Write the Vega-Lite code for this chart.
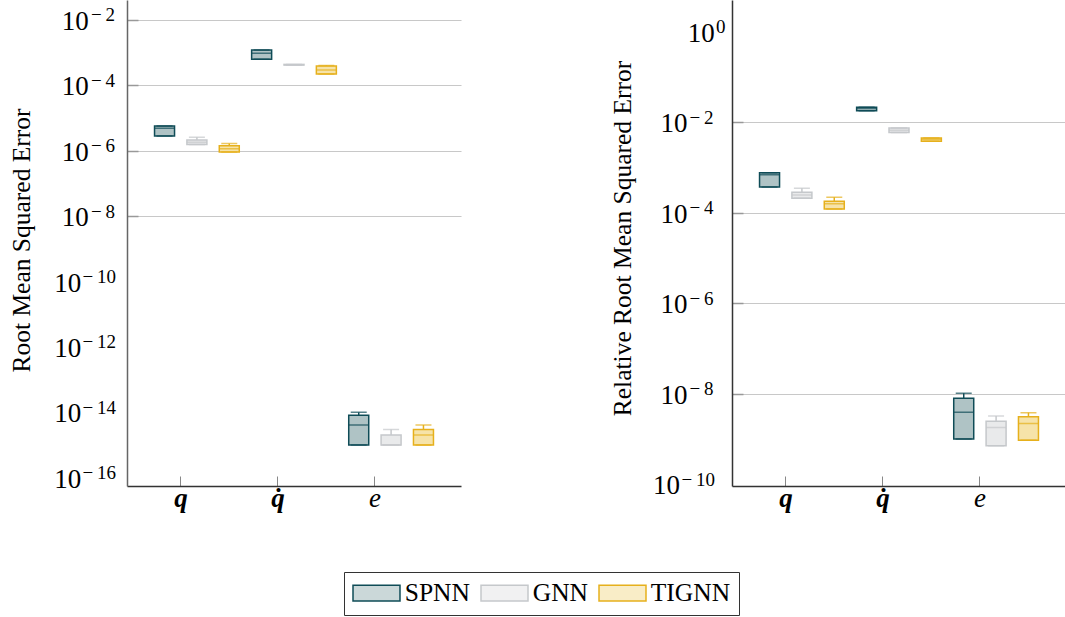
{
  "$schema": "https://vega.github.io/schema/vega-lite/v6.json",
  "autosize": {"type": "pad"},
  "padding": {"left": 9, "top": 0, "right": 0, "bottom": 0},
  "background": "white",
  "bounds": "flush",
  "spacing": 271,
  "config": {
    "font": "Liberation Serif",
    "view": {"stroke": null},
    "axis": {"labelColor": "black", "titleColor": "black", "labelFont": "Liberation Serif", "titleFont": "Liberation Serif"}
  },
  "datasets": {
    "rmse": [
      {"var": "q", "model": "SPNN", "lower": 2.82e-6, "q1": 2.82e-6, "median": 4.9e-6, "q3": 5.75e-6, "upper": 5.75e-6},
      {"var": "q", "model": "GNN", "lower": 1.55e-6, "q1": 1.55e-6, "median": 1.82e-6, "q3": 2.14e-6, "upper": 2.57e-6},
      {"var": "q", "model": "TIGNN", "lower": 9.1e-7, "q1": 9.1e-7, "median": 1.15e-6, "q3": 1.41e-6, "upper": 1.66e-6},
      {"var": "q̇", "model": "SPNN", "lower": 6.3e-4, "q1": 6.3e-4, "median": 9.5e-4, "q3": 1.2e-3, "upper": 1.2e-3},
      {"var": "q̇", "model": "GNN", "lower": 4.17e-4, "q1": 4.17e-4, "median": 4.27e-4, "q3": 4.37e-4, "upper": 4.37e-4},
      {"var": "q̇", "model": "TIGNN", "lower": 2.24e-4, "q1": 2.24e-4, "median": 2.95e-4, "q3": 3.89e-4, "upper": 4.07e-4},
      {"var": "e", "model": "SPNN", "lower": 1.0e-15, "q1": 1.0e-15, "median": 4.1e-15, "q3": 8.1e-15, "upper": 1.0e-14},
      {"var": "e", "model": "GNN", "lower": 1.0e-15, "q1": 1.0e-15, "median": 1.0e-15, "q3": 2.04e-15, "upper": 3.0e-15},
      {"var": "e", "model": "TIGNN", "lower": 1.0e-15, "q1": 1.0e-15, "median": 2.04e-15, "q3": 3.0e-15, "upper": 4.1e-15}
    ],
    "rrmse": [
      {"var": "q", "model": "SPNN", "lower": 3.7e-4, "q1": 3.7e-4, "median": 6.9e-4, "q3": 7.6e-4, "upper": 7.6e-4},
      {"var": "q", "model": "GNN", "lower": 2.09e-4, "q1": 2.09e-4, "median": 2.45e-4, "q3": 2.82e-4, "upper": 3.47e-4},
      {"var": "q", "model": "TIGNN", "lower": 1.2e-4, "q1": 1.2e-4, "median": 1.58e-4, "q3": 1.78e-4, "upper": 2.19e-4},
      {"var": "q̇", "model": "SPNN", "lower": 1.78e-2, "q1": 1.78e-2, "median": 2.0e-2, "q3": 2.14e-2, "upper": 2.14e-2},
      {"var": "q̇", "model": "GNN", "lower": 5.9e-3, "q1": 5.9e-3, "median": 6.6e-3, "q3": 7.4e-3, "upper": 7.4e-3},
      {"var": "q̇", "model": "TIGNN", "lower": 3.8e-3, "q1": 3.8e-3, "median": 4.17e-3, "q3": 4.47e-3, "upper": 4.47e-3},
      {"var": "e", "model": "SPNN", "lower": 1.0e-9, "q1": 1.0e-9, "median": 3.9e-9, "q3": 7.9e-9, "upper": 1.02e-8},
      {"var": "e", "model": "GNN", "lower": 7.1e-10, "q1": 7.1e-10, "median": 1.78e-9, "q3": 2.45e-9, "upper": 3.2e-9},
      {"var": "e", "model": "TIGNN", "lower": 9.3e-10, "q1": 9.3e-10, "median": 2.2e-9, "q3": 3.1e-9, "upper": 3.8e-9}
    ]
  },
  "resolve": {"scale": {"y": "independent", "x": "independent", "xOffset": "independent", "fill": "shared", "stroke": "shared"}, "legend": {"fill": "shared", "stroke": "shared"}},
  "hconcat": [
    {
      "width": 334,
      "height": 486,
      "data": {"name": "rmse"},
      "resolve": {"axis": {"y": "independent"}},
      "encoding": {
        "x": {"field": "var", "type": "nominal", "sort": ["q", "q̇", "e"],
          "scale": {"paddingInner": 0, "paddingOuter": 0.22},
          "axis": {"title": null, "labelAngle": 0, "labelFontSize": 27, "labelFontStyle": "italic",
            "labelFontWeight": {"condition": {"test": "datum.value === 'e'", "value": "normal"}, "value": "bold"},
            "tickSize": -10, "tickColor": "#888", "tickWidth": 1, "bandPosition": 0.334, "labelOffset": -16,
            "domainColor": "#333", "domainWidth": 1.5, "grid": false, "labelPadding": 9}},
        "xOffset": {"field": "model", "type": "nominal", "sort": ["SPNN", "GNN", "TIGNN"], "scale": {"paddingInner": 0, "paddingOuter": 0}},
        "stroke": {"field": "model", "type": "nominal", "scale": {"domain": ["SPNN", "GNN", "TIGNN"], "range": ["#0f4c57", "#c5c8cb", "#e6b01c"]}}
      },
      "layer": [
        {
          "mark": {"type": "rule", "strokeWidth": 1.5},
          "encoding": {
            "y": {"field": "lower", "type": "quantitative",
              "scale": {"type": "log", "domain": [5.6e-17, 4.07e-2], "nice": false, "zero": false},
              "axis": {"orient": "left", "title": "Root Mean Squared Error", "values": [1e-2, 1e-4, 1e-6, 1e-8],
                "labelExpr": "'−\u2009' + (-round(log(datum.value)/LN10))", "labelAlign": "left", "labelPadding": 47.5, "labelFontSize": 19, "labelOffset": -5,
                "grid": true, "gridColor": "#c8c8c8", "gridWidth": 1.2, "tickSize": -11, "tickColor": "#999", "tickWidth": 1.5,
                "domainColor": "#666", "domainWidth": 1.5,
                "titleFontSize": 25.5, "titleFontWeight": "normal", "titleX": -106, "titleY": 240, "titleBaseline": "middle", "titleAngle": 270, "titleAlign": "center"}},
            "y2": {"field": "q1"}
          }
        },
        {
          "mark": {"type": "rule", "strokeWidth": 1.5},
          "encoding": {
            "y": {"field": "q3", "type": "quantitative",
              "scale": {"type": "log", "domain": [5.6e-17, 4.07e-2], "nice": false, "zero": false},
              "axis": {"orient": "left", "title": null, "values": [1e-10, 1e-12, 1e-14, 1e-16], "domain": false, "ticks": false, "grid": false,
                "labelExpr": "'−\u2009' + (-round(log(datum.value)/LN10))", "labelAlign": "left", "labelPadding": 45, "labelFontSize": 19, "labelOffset": -5}},
            "y2": {"field": "upper"}
          }
        },
        {
          "mark": {"type": "bar", "size": 20, "strokeWidth": 1.5},
          "encoding": {
            "y": {"field": "q1", "type": "quantitative",
              "scale": {"type": "log", "domain": [5.6e-17, 4.07e-2], "nice": false, "zero": false},
              "axis": {"orient": "left", "title": null, "values": [1e-2, 1e-4, 1e-6, 1e-8], "domain": false, "ticks": false, "grid": false,
                "labelExpr": "'10'", "labelAlign": "right", "labelPadding": 38.7, "labelFontSize": 27, "labelOffset": 1.5}},
            "y2": {"field": "q3"},
            "fill": {"field": "model", "type": "nominal", "scale": {"domain": ["SPNN", "GNN", "TIGNN"], "range": ["#afc3c5", "#e9eaeb", "#f6e3a9"]},
              "legend": {"title": null, "orient": "none", "legendX": 217, "legendY": 572, "direction": "horizontal", "columns": 3,
                "symbolType": "M-2,-0.68H2V0.68H-2Z", "symbolSize": 552, "symbolStrokeWidth": 1.5, "symbolOffset": 11.75,
                "labelFontSize": 25.5, "labelFont": "Liberation Serif", "labelColor": "black", "labelOffset": 15.5, "columnPadding": 8,
                "padding": 8, "strokeColor": "#333", "fillColor": "white",
                "encode": {"symbols": {"update": {"fillOpacity": {"value": 0.65}}}}}},
            "stroke": {"field": "model", "type": "nominal", "scale": {"domain": ["SPNN", "GNN", "TIGNN"], "range": ["#0f4c57", "#c5c8cb", "#e6b01c"]},
              "legend": {"title": null, "orient": "none", "legendX": 217, "legendY": 572, "direction": "horizontal", "columns": 3,
                "symbolType": "M-2,-0.68H2V0.68H-2Z", "symbolSize": 552, "symbolStrokeWidth": 1.5, "symbolOffset": 11.75,
                "labelFontSize": 25.5, "labelFont": "Liberation Serif", "labelColor": "black", "labelOffset": 15.5, "columnPadding": 8,
                "padding": 8, "strokeColor": "#333", "fillColor": "white",
                "encode": {"symbols": {"update": {"fillOpacity": {"value": 0.65}}}}}}
          }
        },
        {
          "mark": {"type": "tick", "size": 20, "thickness": 0, "strokeWidth": 1.5, "filled": false},
          "encoding": {
            "y": {"field": "median", "type": "quantitative",
              "scale": {"type": "log", "domain": [5.6e-17, 4.07e-2], "nice": false, "zero": false},
              "axis": {"orient": "left", "title": null, "values": [1e-10, 1e-12, 1e-14, 1e-16], "domain": false, "ticks": false, "grid": false,
                "labelExpr": "'10'", "labelAlign": "right", "labelPadding": 46.3, "labelFontSize": 27, "labelOffset": 1.5}}
          }
        },
        {
          "mark": {"type": "tick", "size": 16, "thickness": 0, "strokeWidth": 1.5, "filled": false},
          "encoding": {
            "y": {"field": "upper", "type": "quantitative", "scale": {"type": "log", "domain": [5.6e-17, 4.07e-2], "nice": false, "zero": false}, "axis": null}
          }
        },
        {
          "mark": {"type": "tick", "size": 16, "thickness": 0, "strokeWidth": 1.5, "filled": false},
          "encoding": {
            "y": {"field": "lower", "type": "quantitative", "scale": {"type": "log", "domain": [5.6e-17, 4.07e-2], "nice": false, "zero": false}, "axis": null}
          }
        }
      ]
    },
    {
      "width": 334,
      "height": 486,
      "data": {"name": "rrmse"},
      "resolve": {"axis": {"y": "independent"}},
      "encoding": {
        "x": {"field": "var", "type": "nominal", "sort": ["q", "q̇", "e"],
          "scale": {"paddingInner": 0, "paddingOuter": 0.22},
          "axis": {"title": null, "labelAngle": 0, "labelFontSize": 27, "labelFontStyle": "italic",
            "labelFontWeight": {"condition": {"test": "datum.value === 'e'", "value": "normal"}, "value": "bold"},
            "tickSize": -10, "tickColor": "#888", "tickWidth": 1, "bandPosition": 0.334, "labelOffset": -16,
            "domainColor": "#333", "domainWidth": 1.5, "grid": false, "labelPadding": 9}},
        "xOffset": {"field": "model", "type": "nominal", "sort": ["SPNN", "GNN", "TIGNN"], "scale": {"paddingInner": 0, "paddingOuter": 0}},
        "stroke": {"field": "model", "type": "nominal", "scale": {"domain": ["SPNN", "GNN", "TIGNN"], "range": ["#0f4c57", "#c5c8cb", "#e6b01c"]}}
      },
      "layer": [
        {
          "mark": {"type": "rule", "strokeWidth": 1.5},
          "encoding": {
            "y": {"field": "lower", "type": "quantitative",
              "scale": {"type": "log", "domain": [9.1e-11, 5.0], "nice": false, "zero": false},
              "axis": {"orient": "left", "title": "Relative Root Mean Squared Error", "values": [1e-2, 1e-4, 1e-6, 1e-8],
                "labelExpr": "'−\u2009' + (-round(log(datum.value)/LN10))", "labelAlign": "left", "labelPadding": 54, "labelFontSize": 19, "labelOffset": -5,
                "grid": true, "gridColor": "#c8c8c8", "gridWidth": 1.2, "tickSize": -11, "tickColor": "#999", "tickWidth": 1.5,
                "domainColor": "#333", "domainWidth": 1.5,
                "titleFontSize": 25.5, "titleFontWeight": "normal", "titleX": -110, "titleY": 238, "titleBaseline": "middle", "titleAngle": 270, "titleAlign": "center"}},
            "y2": {"field": "q1"}
          }
        },
        {
          "mark": {"type": "rule", "strokeWidth": 1.5},
          "encoding": {
            "y": {"field": "q3", "type": "quantitative",
              "scale": {"type": "log", "domain": [9.1e-11, 5.0], "nice": false, "zero": false},
              "axis": {"orient": "left", "title": null, "values": [1], "domain": false, "ticks": false, "grid": false,
                "labelExpr": "'0'", "labelAlign": "left", "labelPadding": 16.5, "labelFontSize": 19, "labelOffset": -5}},
            "y2": {"field": "upper"}
          }
        },
        {
          "mark": {"type": "bar", "size": 20, "strokeWidth": 1.5},
          "encoding": {
            "y": {"field": "q1", "type": "quantitative",
              "scale": {"type": "log", "domain": [9.1e-11, 5.0], "nice": false, "zero": false},
              "axis": {"orient": "left", "title": null, "values": [1], "domain": false, "ticks": false, "grid": false,
                "labelExpr": "'10'", "labelAlign": "right", "labelPadding": 17.7, "labelFontSize": 27, "labelOffset": 1.5}},
            "y2": {"field": "q3"},
            "fill": {"field": "model", "type": "nominal", "scale": {"domain": ["SPNN", "GNN", "TIGNN"], "range": ["#afc3c5", "#e9eaeb", "#f6e3a9"]}}
          }
        },
        {
          "mark": {"type": "tick", "size": 20, "thickness": 0, "strokeWidth": 1.5, "filled": false},
          "encoding": {
            "y": {"field": "median", "type": "quantitative",
              "scale": {"type": "log", "domain": [9.1e-11, 5.0], "nice": false, "zero": false},
              "axis": {"orient": "left", "title": null, "values": [1e-2, 1e-4, 1e-6, 1e-8], "domain": false, "ticks": false, "grid": false,
                "labelExpr": "'10'", "labelAlign": "right", "labelPadding": 45, "labelFontSize": 27, "labelOffset": 1.5}}
          }
        },
        {
          "mark": {"type": "tick", "size": 16, "thickness": 0, "strokeWidth": 1.5, "filled": false},
          "encoding": {
            "y": {"field": "upper", "type": "quantitative",
              "scale": {"type": "log", "domain": [9.1e-11, 5.0], "nice": false, "zero": false},
              "axis": {"orient": "left", "title": null, "values": [1e-10], "domain": false, "ticks": false, "grid": false,
                "labelExpr": "'−\u2009' + (-round(log(datum.value)/LN10))", "labelAlign": "left", "labelPadding": 51, "labelFontSize": 19, "labelOffset": -5}}
          }
        },
        {
          "mark": {"type": "tick", "size": 16, "thickness": 0, "strokeWidth": 1.5, "filled": false},
          "encoding": {
            "y": {"field": "lower", "type": "quantitative",
              "scale": {"type": "log", "domain": [9.1e-11, 5.0], "nice": false, "zero": false},
              "axis": {"orient": "left", "title": null, "values": [1e-10], "domain": false, "ticks": false, "grid": false,
                "labelExpr": "'10'", "labelAlign": "right", "labelPadding": 52.5, "labelFontSize": 27, "labelOffset": 1.5}}
          }
        }
      ]
    }
  ]
}
